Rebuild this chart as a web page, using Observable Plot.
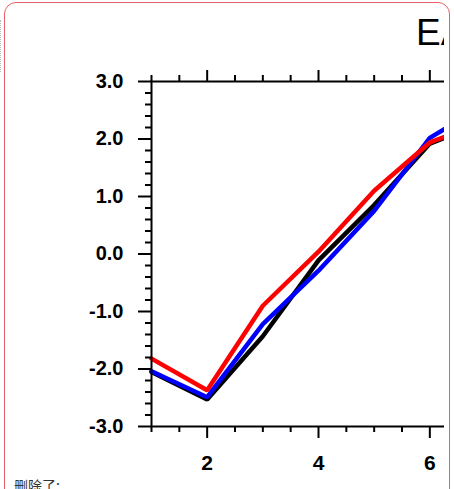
<!DOCTYPE html>
<html><head><meta charset="utf-8">
<script src="https://cdn.jsdelivr.net/npm/d3@7"></script>
<script src="https://cdn.jsdelivr.net/npm/@observablehq/plot@0.6"></script>
<style>
html,body{margin:0;padding:0;background:#fff;width:454px;height:489px;overflow:hidden;position:relative;}
#clip{position:absolute;left:0;top:0;width:444px;height:489px;overflow:hidden;}
#chart{position:absolute;left:0;top:0;width:500px;height:489px;}
#chart svg{max-width:none !important;width:500px;height:489px;}
#frame{position:absolute;left:4px;top:2px;width:446px;height:500px;box-sizing:border-box;border:1.5px solid #e5606a;border-radius:12px;pointer-events:none;}
#dots{position:absolute;left:0;top:20px;height:52px;border-left:1px dotted #bbb;}
#title{position:absolute;left:416px;top:14px;font-size:37px;line-height:1;font-family:"Liberation Sans",Arial,sans-serif;white-space:nowrap;color:#000;}
#note{position:absolute;left:14px;top:478px;font-size:14px;line-height:1;font-family:"Noto Sans CJK SC",sans-serif;color:#333;white-space:nowrap;}
</style></head><body>
<div id="clip"><div id="chart"></div><div id="title">EA</div></div>
<div id="frame"></div>
<div id="dots"></div>
<div id="note">删除了:</div>
<script>
const months = [1, 2, 3, 4, 5, 6, 7];
const blackSeries = [-2.05, -2.53, -1.43, -0.11, 0.85, 1.92, 2.30];
const blueSeries  = [-2.04, -2.49, -1.22, -0.29, 0.75, 2.02, 2.60];
const redSeries   = [-1.82, -2.37, -0.90, 0.04, 1.10, 1.94, 2.30];
const xMajorTicks = [2, 4, 6];
const xMinorTicks = [1, 1.5, 2.5, 3, 3.5, 4.5, 5, 5.5, 6.5, 7];
const yMajorTicks = [-3, -2, -1, 0, 1, 2, 3];
const yMinorTicks = [-2.8,-2.6,-2.4,-2.2,-1.8,-1.6,-1.4,-1.2,-0.8,-0.6,-0.4,-0.2,0.2,0.4,0.6,0.8,1.2,1.4,1.6,1.8,2.2,2.4,2.6,2.8];

const toRows = vals => months.map((m, i) => ({month: m, value: vals[i]}));
const lineOpts = c => ({x: "month", y: "value", stroke: c, strokeWidth: 4.5, strokeLinejoin: "miter", curve: "linear"});
const noText = () => "";

const chart = Plot.plot({
  width: 500, height: 489,
  marginLeft: 151, marginRight: 15, marginTop: 81, marginBottom: 63,
  x: {domain: [1, 7], label: null},
  y: {domain: [-3, 3], label: null},
  style: {fontFamily: "'Liberation Sans', Arial, sans-serif", fontSize: "20px", color: "#000", background: "transparent", maxWidth: "none"},
  marks: [
    Plot.line(toRows(blackSeries), lineOpts("#000000")),
    Plot.line(toRows(blueSeries), lineOpts("#0000ff")),
    Plot.line(toRows(redSeries), lineOpts("#ff0000")),
    Plot.axisY(yMajorTicks, {tickSize: 13, tickPadding: 15, tickFormat: d => d.toFixed(1), strokeWidth: 2, fontSize: 20, fontWeight: "bold", label: null}),
    Plot.axisY(yMinorTicks, {tickSize: 6, tickFormat: noText, strokeWidth: 2, label: null}),
    Plot.axisX(xMajorTicks, {anchor: "bottom", tickSize: 12, tickPadding: 17, tickFormat: d => String(d), strokeWidth: 2, fontSize: 21, fontWeight: "bold", label: null}),
    Plot.axisX(xMinorTicks, {anchor: "bottom", tickSize: 6, tickFormat: noText, strokeWidth: 2, label: null}),
    Plot.axisX(xMajorTicks, {anchor: "top", tickSize: 12, tickFormat: noText, strokeWidth: 2, label: null}),
    Plot.axisX(xMinorTicks, {anchor: "top", tickSize: 7, tickFormat: noText, strokeWidth: 2, label: null}),
    Plot.frame({stroke: "#000", strokeWidth: 2})
  ]
});
chart.style.maxWidth = "none";
document.getElementById("chart").appendChild(chart);
</script>
</body></html>
